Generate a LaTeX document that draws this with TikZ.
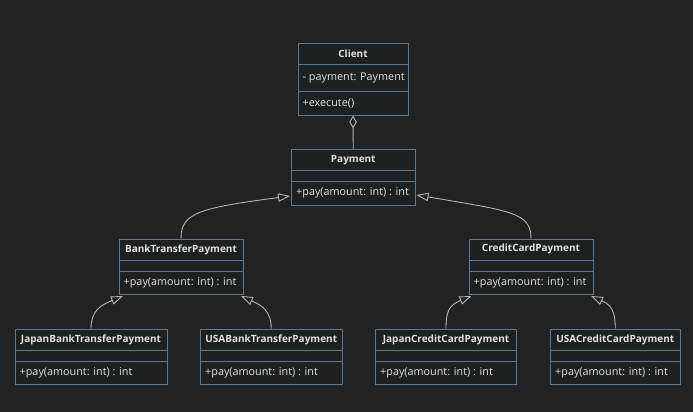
\documentclass[tikz,border=0pt]{standalone}
\usepackage{fontspec}
\setmainfont{Open Sans}
\usetikzlibrary{arrows.meta,calc}
\definecolor{bgc}{HTML}{222222}
\definecolor{boxfill}{HTML}{1F2020}
\definecolor{boxline}{HTML}{5B7896}
\definecolor{txt}{HTML}{E2E2E2}
\definecolor{edge}{HTML}{B4B4B4}
\tikzset{
  box/.style={draw=boxline, fill=boxfill, line width=1pt, anchor=north west, inner sep=0pt},
  sep/.style={draw=boxline, line width=1pt},
  ttl/.style={inner sep=0pt, text=txt, font=\fontsize{10}{12}\selectfont\bfseries},
  mth/.style={inner sep=0pt, anchor=west, text=txt, font=\fontsize{10.8}{13}\selectfont},
  inh/.style={draw=edge, line width=0.9pt, -{Triangle[open, length=12pt, width=8.5pt]}},
  agg/.style={draw=edge, line width=0.9pt, -{Diamond[open, length=13pt, width=7.5pt]}}
}
\newcommand\umlcls[6]{%
  \node[box, minimum width=#4pt, minimum height=55.5pt] (#1) at (#2,#3) {};
  \draw[sep] ($(#1.north west)+(0,21.5)$) -- ($(#1.north east)+(0,21.5)$);
  \draw[sep] ($(#1.north west)+(0,32.5)$) -- ($(#1.north east)+(0,32.5)$);
  \node[ttl] (#1-t) at ($(#1.north)+(0,10.9)$) {#5};
  \node[mth] (#1-m) at ($(#1.north west)+(5,44)$) {#6};
}
\begin{document}
\begin{tikzpicture}[x=1pt, y=-1pt]
\fill[bgc] (0,0) rectangle (693,412);
\useasboundingbox (0,0) rectangle (693,412);

% Client
\node[box, minimum width=110pt, minimum height=71pt] (client) at (297.5,43.5) {};
\draw[sep] ($(client.north west)+(0,21)$) -- ($(client.north east)+(0,21)$);
\draw[sep] ($(client.north west)+(0,48.2)$) -- ($(client.north east)+(0,48.2)$);
\node[ttl] (client-t) at ($(client.north)+(0,10.6)$) {Client};
\node[mth] (client-a) at ($(client.north west)+(5,34.6)$) {- payment: Payment};
\node[mth] (client-m) at ($(client.north west)+(5,59.6)$) {+execute()};

\umlcls{pay}{291}{149}{123.5}{Payment}{+pay(amount: int) : int}
\umlcls{bank}{118.5}{238.5}{124}{BankTransferPayment}{+pay(amount: int) : int}
\umlcls{cc}{468.5}{238.5}{124}{CreditCardPayment}{+pay(amount: int) : int}
\umlcls{jb}{14.5}{328.5}{152}{JapanBankTransferPayment}{+pay(amount: int) : int}
\umlcls{ub}{200}{328.5}{141.5}{USABankTransferPayment}{+pay(amount: int) : int}
\umlcls{jc}{375}{328.5}{141}{JapanCreditCardPayment}{+pay(amount: int) : int}
\umlcls{uc}{550}{328.5}{129.5}{USACreditCardPayment}{+pay(amount: int) : int}

% connectors
\draw[agg] (pay.north) -- (client.south);
\coordinate (payL) at ($(pay.south west)+(-1,-9.5)$);
\coordinate (payR) at ($(pay.south east)+(1,-10.5)$);
\draw[inh] (bank.north) .. controls ($(bank.north)+(0,-26)$) and ($(payL)+(-90,12)$) .. (payL);
\draw[inh] (cc.north) .. controls ($(cc.north)+(0,-26)$) and ($(payR)+(95,16)$) .. (payR);
\coordinate (bankL) at ($(bank.south west)+(4.5,1)$);
\coordinate (bankR) at ($(bank.south east)+(-2.5,1)$);
\coordinate (ccL) at ($(cc.south west)+(3,1)$);
\coordinate (ccR) at ($(cc.south east)+(-2.5,1)$);
\draw[inh] (jb.north) .. controls ($(jb.north)+(0,-18)$) and ($(bankL)+(-22,9)$) .. (bankL);
\draw[inh] (ub.north) .. controls ($(ub.north)+(0,-18)$) and ($(bankR)+(20,9)$) .. (bankR);
\draw[inh] (jc.north) .. controls ($(jc.north)+(0,-18)$) and ($(ccL)+(-22,9)$) .. (ccL);
\draw[inh] (uc.north) .. controls ($(uc.north)+(0,-18)$) and ($(ccR)+(20,9)$) .. (ccR);
\end{tikzpicture}
\end{document}
